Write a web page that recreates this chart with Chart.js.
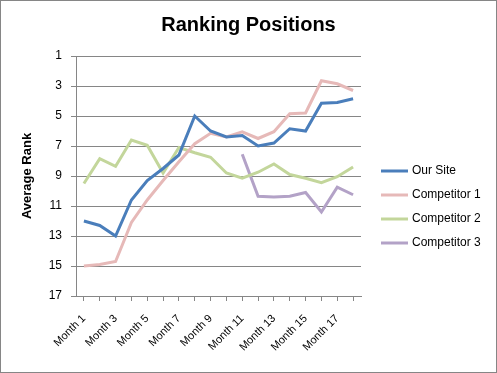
<!DOCTYPE html>
<html>
<head>
<meta charset="utf-8">
<script src="https://cdn.jsdelivr.net/npm/chart.js@4"></script>
<style>
  html, body { margin: 0; padding: 0; background: #fff; }
  #wrap { width: 497px; height: 373px; box-sizing: border-box; border: 1px solid #868686; }
  canvas { display: block; }
</style>
</head>
<body>
<div id="wrap"><canvas id="chart" width="495" height="371"></canvas></div>
<script>
// Ranking positions chart — reversed rank axis, Excel 2007 look
const MONTHS = Array.from({ length: 18 }, (_, i) => 'Month ' + (i + 1));

const OUR_SITE = [12, 12.3, 13, 10.6, 9.3, 8.5, 7.6, 5, 6, 6.4, 6.3, 7, 6.8, 5.85, 6, 4.15, 4.1, 3.85];
const COMPETITOR_1 = [15, 14.9, 14.7, 12.1, 10.6, 9.3, 8.05, 6.85, 6.15, 6.4, 6.05, 6.5, 6.05, 4.85, 4.8, 2.65, 2.85, 3.3];
const COMPETITOR_2 = [9.5, 7.85, 8.35, 6.6, 6.95, 8.8, 7.1, 7.45, 7.75, 8.8, 9.15, 8.75, 8.2, 8.9, 9.15, 9.45, 9.05, 8.4];
const COMPETITOR_3 = [null, null, null, null, null, null, null, null, null, null, 7.55, 10.35, 10.4, 10.35, 10.1, 11.4, 9.75, 10.25];

const GRID = '#868686';
const FONT = "'Liberation Sans', Arial, sans-serif";

function series(label, data, color) {
  return {
    label, data,
    borderColor: color,
    backgroundColor: color,
    borderWidth: 3,
    pointRadius: 0,
    tension: 0,
    spanGaps: false,
  };
}

// Legend drawn to the right of the plot, Excel style (short line + label)
const sideLegend = {
  id: 'sideLegend',
  afterDraw(chart) {
    const ctx = chart.ctx;
    const x0 = chart.chartArea.right + 20;
    ctx.save();
    ctx.font = '12px ' + FONT;
    ctx.textBaseline = 'middle';
    chart.data.datasets.forEach((ds, i) => {
      const y = 170 + i * 24;
      ctx.strokeStyle = ds.borderColor;
      ctx.lineWidth = 3;
      ctx.beginPath();
      ctx.moveTo(x0, y);
      ctx.lineTo(x0 + 27, y);
      ctx.stroke();
      ctx.fillStyle = '#000';
      ctx.fillText(ds.label, x0 + 31, y);
    });
    ctx.restore();
  },
};

new Chart(document.getElementById('chart'), {
  type: 'line',
  data: {
    labels: MONTHS,
    datasets: [
      series('Our Site', OUR_SITE, '#4A7EBB'),
      series('Competitor 1', COMPETITOR_1, '#E6B9B8'),
      series('Competitor 2', COMPETITOR_2, '#C3D69B'),
      series('Competitor 3', COMPETITOR_3, '#B3A2C7'),
    ],
  },
  options: {
    responsive: false,
    animation: false,
    layout: { padding: 0 },
    plugins: {
      legend: { display: false },
      tooltip: { enabled: false },
      title: {
        display: true,
        text: 'Ranking Positions',
        color: '#000',
        font: { family: FONT, size: 20, weight: 'bold' },
        padding: { top: 12, bottom: 19 },
      },
    },
    scales: {
      x: {
        offset: true,
        grid: { drawOnChartArea: false, color: GRID, tickLength: 5 },
        border: { color: GRID },
        ticks: {
          autoSkip: false,
          maxRotation: 45,
          minRotation: 45,
          padding: 11,
          color: '#000',
          font: { family: FONT, size: 11 },
          callback: (v, i) => (i % 2 === 0 ? MONTHS[i] : ''),
        },
        afterFit: s => { s.height = 76; },
      },
      y: {
        reverse: true,
        min: 1,
        max: 17,
        grid: { color: GRID, tickLength: 5 },
        border: { color: GRID },
        ticks: {
          stepSize: 2,
          padding: 9,
          color: '#000',
          font: { family: FONT, size: 12 },
        },
        title: {
          display: true,
          text: 'Average Rank',
          color: '#000',
          font: { family: FONT, size: 13, weight: 'bold' },
          padding: { top: 19, bottom: 0 },
        },
        afterFit: s => { s.width = 75; },
      },
      // empty right-hand axis that only reserves room for the legend
      legendSpace: {
        type: 'linear',
        position: 'right',
        grid: { display: false },
        border: { display: false },
        ticks: { display: false },
        afterFit: s => { s.width = 135; },
      },
    },
  },
  plugins: [sideLegend],
});
</script>
</body>
</html>
